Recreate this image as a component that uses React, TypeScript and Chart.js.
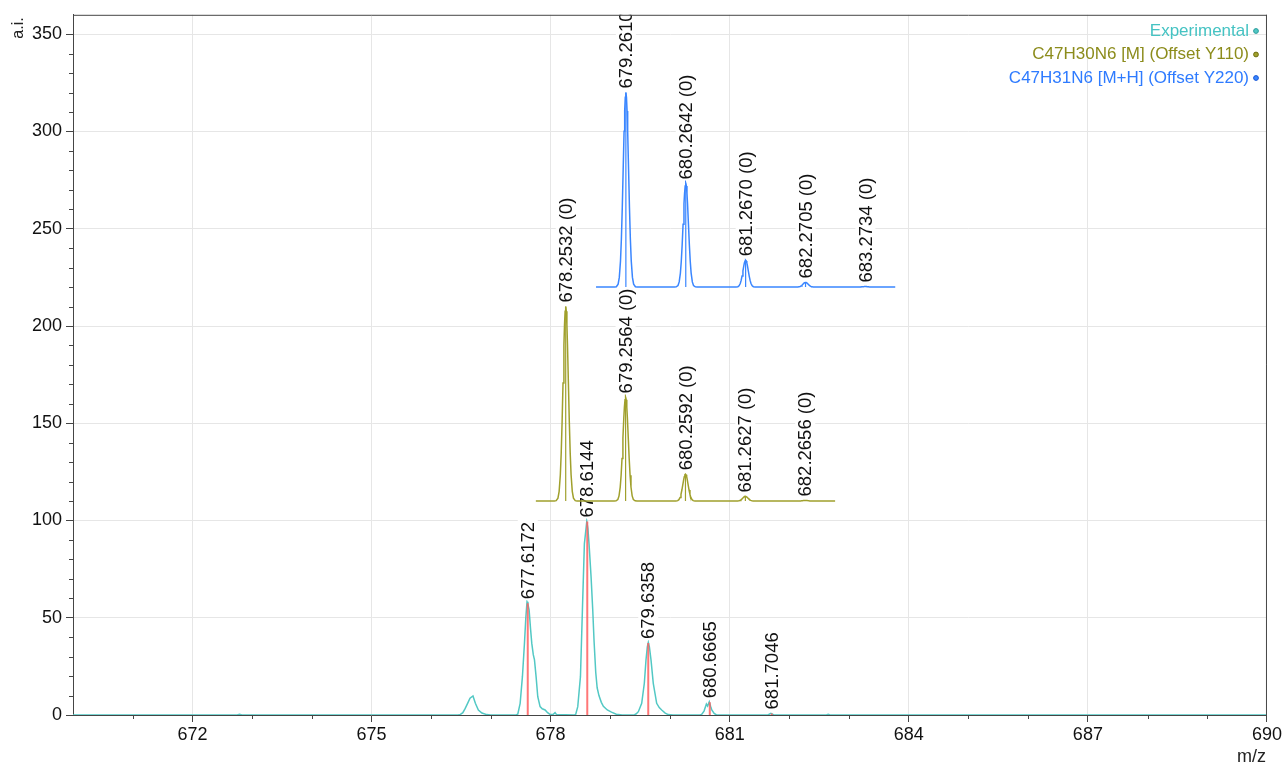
import React, { useEffect, useRef } from "react";
import { Chart, registerables } from "chart.js";

Chart.register(...registerables);

const FONT = '"Liberation Sans", Arial, Helvetica, sans-serif';

// Measured profile spectrum: [m/z, intensity]
const expProfile: [number, number][] = [
  [670.0, 0], [672.75, 0], [672.79, 0.4], [672.83, 0],
  [676.45, 0], [676.49, 0.3], [676.53, 1.2], [676.57, 3.4], [676.61, 6], [676.65, 8.6],
  [676.7, 9.8], [676.74, 6], [676.79, 2.6], [676.85, 1], [676.93, 0.2], [677.0, 0],
  [677.42, 0], [677.45, 0.4], [677.49, 6], [677.528, 19.7], [677.562, 36.8], [677.585, 50],
  [677.605, 58.2], [677.62, 57], [677.64, 54], [677.665, 44], [677.685, 36.8], [677.71, 31],
  [677.73, 28.3], [677.757, 19.7], [677.785, 9.4], [677.824, 4.3], [677.86, 3.2], [677.908, 2.6],
  [677.95, 1.2], [677.99, 0.3], [678.04, 0.2], [678.075, 1.2], [678.1, 0.2],
  [678.4, 0], [678.42, 0.3], [678.455, 4.3], [678.5, 19.7], [678.533, 54], [678.566, 88],
  [678.606, 99.5], [678.625, 96], [678.644, 88], [678.678, 71], [678.706, 54], [678.728, 38],
  [678.756, 22], [678.78, 14], [678.81, 10], [678.85, 6.5], [678.884, 4.5], [678.95, 2.6],
  [679.02, 1.5], [679.1, 0.4], [679.2, 0],
  [679.4, 0], [679.43, 0.5], [679.47, 1.7], [679.526, 6], [679.57, 16.3], [679.598, 28.3],
  [679.62, 35], [679.637, 37.3], [679.655, 35], [679.682, 28.3], [679.72, 16.3], [679.777, 6],
  [679.82, 3.8], [679.861, 2.6], [679.92, 1], [679.97, 0.2], [680.05, 0],
  [680.5, 0], [680.53, 0.3], [680.57, 2], [680.61, 5.6], [680.63, 4.6], [680.658, 6.8],
  [680.68, 4.5], [680.7, 2.6], [680.74, 0.8], [680.78, 0],
  [681.64, 0], [681.69, 0.8], [681.74, 0],
  [682.62, 0], [682.65, 0.4], [682.68, 0],
  [690.0, 0],
];

// Centroided experimental peaks
const expPeakMz = [677.6172, 678.6144, 679.6358, 680.6665, 681.7046];
const expPeakIntensity = [57.5, 99.5, 37, 6.5, 0.8];
const expPeakLabels = ["677.6172", "678.6144", "679.6358", "680.6665", "681.7046"];

// Simulated isotope pattern C47H30N6 [M], shifted up by 110
const mPeakMz = [678.2532, 679.2564, 680.2592, 681.2627, 682.2656];
const mPeakIntensity = [100, 53.3, 13.8, 2.4, 0.3];
const mPeakLabels = ["678.2532 (0)", "679.2564 (0)", "680.2592 (0)", "681.2627 (0)", "682.2656 (0)"];
const mOffset = 110;
const mRange = [677.753, 682.766];

// Simulated isotope pattern C47H31N6 [M+H], shifted up by 220
const mhPeakMz = [679.261, 680.2642, 681.267, 682.2705, 683.2734];
const mhPeakIntensity = [100, 53.3, 13.8, 2.4, 0.3];
const mhPeakLabels = ["679.2610 (0)", "680.2642 (0)", "681.2670 (0)", "682.2705 (0)", "683.2734 (0)"];
const mhOffset = 220;
const mhRange = [678.761, 683.773];

// Simulated peak shape: m/z offset from centroid and relative height
const shapeOffsets = [-0.19, -0.16, -0.13, -0.11, -0.09, -0.075, -0.06, -0.045, -0.03, -0.02, -0.01, 0,
  0.01, 0.02, 0.03, 0.045, 0.06, 0.075, 0.09, 0.11, 0.13, 0.16, 0.19];
const shapeValues = [0, 0.002, 0.015, 0.05, 0.135, 0.249, 0.411, 0.607, 0.801, 0.906, 0.976, 1,
  0.976, 0.906, 0.801, 0.607, 0.411, 0.249, 0.135, 0.05, 0.015, 0.002, 0];

const xTicks = [672, 675, 678, 681, 684, 687, 690];
const yTicks = [0, 50, 100, 150, 200, 250, 300, 350];

const legendLabels = ["Experimental", "C47H30N6 [M] (Offset Y110)", "C47H31N6 [M+H] (Offset Y220)"];

const COLORS = {
  exp: "#52c8c4",
  expText: "#45c3c3",
  expDot: "#2a9c9c",
  stick: "rgba(255, 95, 95, 0.85)",
  m: "#a0a02c",
  mText: "#8c8c1c",
  mDot: "#6e6e10",
  mh: "#3a86ff",
  mhText: "#2e7bff",
  mhDot: "#1656d6",
  axis: "#454545",
  grid: "#e6e6e6",
  text: "#111111",
};

function stickPoints(mz: number[], height: number[], base: number) {
  const pts: { x: number; y: number | null }[] = [];
  mz.forEach((m, i) => {
    pts.push({ x: m, y: base });
    pts.push({ x: m, y: base + height[i] });
    pts.push({ x: m, y: null });
  });
  return pts;
}

function isotopeProfile(mz: number[], rel: number[], offset: number, range: number[]) {
  const pts: { x: number; y: number }[] = [{ x: range[0], y: offset }];
  mz.forEach((m, i) => {
    shapeOffsets.forEach((d, j) => pts.push({ x: m + d, y: offset + rel[i] * shapeValues[j] }));
  });
  pts.push({ x: range[1], y: offset });
  return pts;
}

function peakLabels(mz: number[], height: number[], base: number, text: string[]) {
  return mz.map((m, i) => ({ x: m, y: base + height[i], text: text[i] }));
}

// Rotated value labels, drawn right after their own stick dataset
const peakLabelPlugin = {
  id: "peakLabels",
  afterDatasetDraw(chart: any, args: any) {
    const ds: any = chart.data.datasets[args.index];
    if (!ds.peakLabels) return;
    const { ctx, chartArea, scales } = chart;
    ctx.save();
    ctx.beginPath();
    ctx.rect(chartArea.left, chartArea.top, chartArea.right - chartArea.left, chartArea.bottom - chartArea.top);
    ctx.clip();
    ctx.font = `18.5px ${FONT}`;
    ctx.textAlign = "left";
    ctx.textBaseline = "middle";
    ds.peakLabels.forEach((lab: any) => {
      const px = scales.x.getPixelForValue(lab.x);
      const py = scales.y.getPixelForValue(lab.y);
      const w = ctx.measureText(lab.text).width;
      ctx.save();
      ctx.translate(px, py - 3);
      ctx.rotate(-Math.PI / 2);
      ctx.fillStyle = "#ffffff";
      ctx.fillRect(0, -10, w + 3, 20);
      ctx.fillStyle = COLORS.text;
      ctx.fillText(lab.text, 1, 1);
      ctx.restore();
    });
    ctx.restore();
  },
};

// Frame, minor ticks, axis titles and legend
const decorPlugin = {
  id: "decor",
  afterDraw(chart: any) {
    const { ctx, chartArea, scales } = chart;
    const { left, right, top, bottom } = chartArea;
    ctx.save();
    ctx.strokeStyle = COLORS.axis;
    ctx.lineWidth = 1;
    ctx.beginPath();
    ctx.moveTo(left, top + 0.5);
    ctx.lineTo(right, top + 0.5);
    ctx.moveTo(right - 0.5, top);
    ctx.lineTo(right - 0.5, bottom);
    ctx.stroke();

    ctx.beginPath();
    for (let v = 10; v < 360; v += 10) {
      if (v % 50 === 0) continue;
      const y = Math.round(scales.y.getPixelForValue(v)) + 0.5;
      ctx.moveTo(left - 4, y);
      ctx.lineTo(left, y);
    }
    for (let v = 671; v < 690; v += 1) {
      if (xTicks.includes(v)) continue;
      const x = Math.round(scales.x.getPixelForValue(v)) + 0.5;
      ctx.moveTo(x, bottom);
      ctx.lineTo(x, bottom + 4);
    }
    ctx.stroke();

    ctx.fillStyle = "#222";
    ctx.font = `16px ${FONT}`;
    ctx.save();
    ctx.translate(19, 28);
    ctx.rotate(-Math.PI / 2);
    ctx.textAlign = "center";
    ctx.textBaseline = "middle";
    ctx.fillText("a.i.", 0, 0);
    ctx.restore();
    ctx.font = `18px ${FONT}`;
    ctx.textAlign = "right";
    ctx.textBaseline = "alphabetic";
    ctx.fillText("m/z", 1266, 762);

    const textColors = [COLORS.expText, COLORS.mText, COLORS.mhText];
    const fills = [COLORS.exp, COLORS.m, COLORS.mh];
    const dots = [COLORS.expDot, COLORS.mDot, COLORS.mhDot];
    ctx.font = `17px ${FONT}`;
    ctx.textBaseline = "middle";
    legendLabels.forEach((t, i) => {
      const y = 31 + i * 23.5;
      ctx.fillStyle = textColors[i];
      ctx.textAlign = "right";
      ctx.fillText(t, 1249, y);
      ctx.beginPath();
      ctx.arc(1256, y, 2.4, 0, Math.PI * 2);
      ctx.fillStyle = fills[i];
      ctx.fill();
      ctx.strokeStyle = dots[i];
      ctx.lineWidth = 1;
      ctx.stroke();
    });
    ctx.restore();
  },
};

export default function App() {
  const canvasRef = useRef<HTMLCanvasElement | null>(null);

  useEffect(() => {
    if (!canvasRef.current) return;
    const base = { pointRadius: 0, tension: 0, fill: false, spanGaps: false };
    const chart = new Chart(canvasRef.current, {
      type: "line",
      data: {
        datasets: [
          {
            ...base,
            label: "Experimental",
            data: expProfile.map(([x, y]) => ({ x, y })),
            borderColor: COLORS.exp,
            borderWidth: 1.5,
            order: 6,
          },
          {
            ...base,
            label: "Experimental centroids",
            data: stickPoints(expPeakMz, expPeakIntensity, 0),
            borderColor: COLORS.stick,
            borderWidth: 2,
            order: 5,
            peakLabels: peakLabels(expPeakMz, expPeakIntensity, 0, expPeakLabels),
          } as any,
          {
            ...base,
            label: legendLabels[1],
            data: isotopeProfile(mPeakMz, mPeakIntensity, mOffset, mRange),
            borderColor: COLORS.m,
            borderWidth: 1.5,
            order: 4,
          },
          {
            ...base,
            label: "C47H30N6 sticks",
            data: stickPoints(mPeakMz, mPeakIntensity, mOffset),
            borderColor: COLORS.m,
            borderWidth: 1.2,
            order: 3,
            peakLabels: peakLabels(mPeakMz, mPeakIntensity, mOffset, mPeakLabels),
          } as any,
          {
            ...base,
            label: legendLabels[2],
            data: isotopeProfile(mhPeakMz, mhPeakIntensity, mhOffset, mhRange),
            borderColor: COLORS.mh,
            borderWidth: 1.5,
            order: 2,
          },
          {
            ...base,
            label: "C47H31N6 sticks",
            data: stickPoints(mhPeakMz, mhPeakIntensity, mhOffset),
            borderColor: COLORS.mh,
            borderWidth: 1.2,
            order: 1,
            peakLabels: peakLabels(mhPeakMz, mhPeakIntensity, mhOffset, mhPeakLabels),
          } as any,
        ],
      },
      options: {
        responsive: false,
        devicePixelRatio: 1,
        animation: false,
        layout: { padding: { top: 14, right: 16, left: 0, bottom: 0 } },
        plugins: { legend: { display: false }, tooltip: { enabled: false } },
        font: { family: FONT },
        scales: {
          x: {
            type: "linear",
            min: 670,
            max: 690,
            afterBuildTicks: (s: any) => {
              s.ticks = xTicks.map((v) => ({ value: v }));
            },
            afterFit: (s: any) => {
              s.height = 52;
            },
            ticks: {
              font: { family: FONT, size: 18 },
              color: COLORS.text,
              padding: 2,
              maxRotation: 0,
              autoSkip: false,
            },
            grid: { color: COLORS.grid, tickColor: COLORS.axis, tickLength: 7, drawTicks: true },
            border: { color: COLORS.axis, width: 1 },
          },
          y: {
            type: "linear",
            min: 0,
            max: 360,
            afterBuildTicks: (s: any) => {
              s.ticks = yTicks.map((v) => ({ value: v }));
            },
            afterFit: (s: any) => {
              s.width = 73;
            },
            ticks: {
              font: { family: FONT, size: 18 },
              color: COLORS.text,
              padding: 4,
            },
            grid: { color: COLORS.grid, tickColor: COLORS.axis, tickLength: 7, drawTicks: true },
            border: { color: COLORS.axis, width: 1 },
          },
        },
      } as any,
      plugins: [peakLabelPlugin, decorPlugin],
    });
    return () => chart.destroy();
  }, []);

  return (
    <div style={{ position: "fixed", left: 0, top: 0, width: 1284, height: 767, background: "#fff" }}>
      <canvas ref={canvasRef} width={1284} height={767} />
    </div>
  );
}
